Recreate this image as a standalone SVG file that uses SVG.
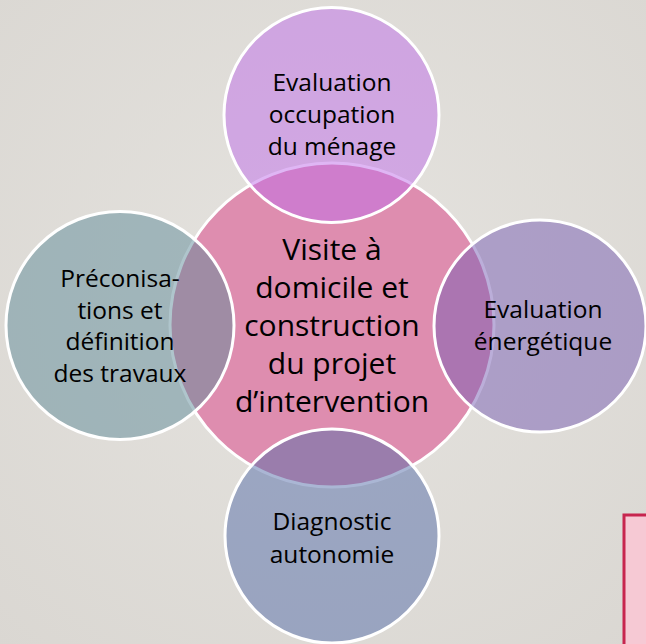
<svg xmlns="http://www.w3.org/2000/svg" width="646" height="644" viewBox="0 0 646 644">
  <defs>
    <radialGradient id="bg" cx="50%" cy="45%" r="75%">
      <stop offset="0" stop-color="#e5e3df"/>
      <stop offset="1" stop-color="#dad7d2"/>
    </radialGradient>
    <style>
      .ring { stroke: #ffffff; stroke-width: 3; }
      .sat { fill-opacity: 0.5; }
      .lbl { font-family: "Open Sans", "Noto Sans", "Liberation Sans", sans-serif; fill: #000000; text-anchor: middle; }
      .small { font-size: 24.5px; }
      .big { font-size: 30px; }
    </style>
  </defs>
  <rect x="0" y="0" width="646" height="644" fill="url(#bg)"/>
  <g id="note-box">
    <rect x="624" y="515" width="40" height="150" fill="#f6c9d4" stroke="#c7254e" stroke-width="3"/>
  </g>
  <g id="connectors"></g>
  <g id="center">
    <circle class="ring" cx="332" cy="325" r="162" fill="#de8daf"/>
    <text class="lbl big" x="332" y="260">Visite à</text>
    <text class="lbl big" x="332" y="298">domicile et</text>
    <text class="lbl big" x="332" y="336">construction</text>
    <text class="lbl big" x="332" y="374">du projet</text>
    <text class="lbl big" x="332" y="412">d’intervention</text>
  </g>
  <g id="top">
    <circle class="ring sat" cx="331.5" cy="115" r="107.5" fill="#bf6ee9"/>
    <text class="lbl small" x="332" y="91">Evaluation</text>
    <text class="lbl small" x="332" y="123">occupation</text>
    <text class="lbl small" x="332" y="155">du ménage</text>
  </g>
  <g id="left">
    <circle class="ring sat" cx="120" cy="325.5" r="114" fill="#5f8c99"/>
    <text class="lbl small" x="120" y="287">Préconisa-</text>
    <text class="lbl small" x="120" y="319">tions et</text>
    <text class="lbl small" x="120" y="350">définition</text>
    <text class="lbl small" x="120" y="382">des travaux</text>
  </g>
  <g id="right">
    <circle class="ring sat" cx="540" cy="326" r="106" fill="#775eb3"/>
    <text class="lbl small" x="543" y="318">Evaluation</text>
    <text class="lbl small" x="543" y="350">énergétique</text>
  </g>
  <g id="bottom">
    <circle class="ring sat" cx="332" cy="536" r="107" fill="#556ea9"/>
    <text class="lbl small" x="332" y="530">Diagnostic</text>
    <text class="lbl small" x="332" y="563">autonomie</text>
  </g>
</svg>
